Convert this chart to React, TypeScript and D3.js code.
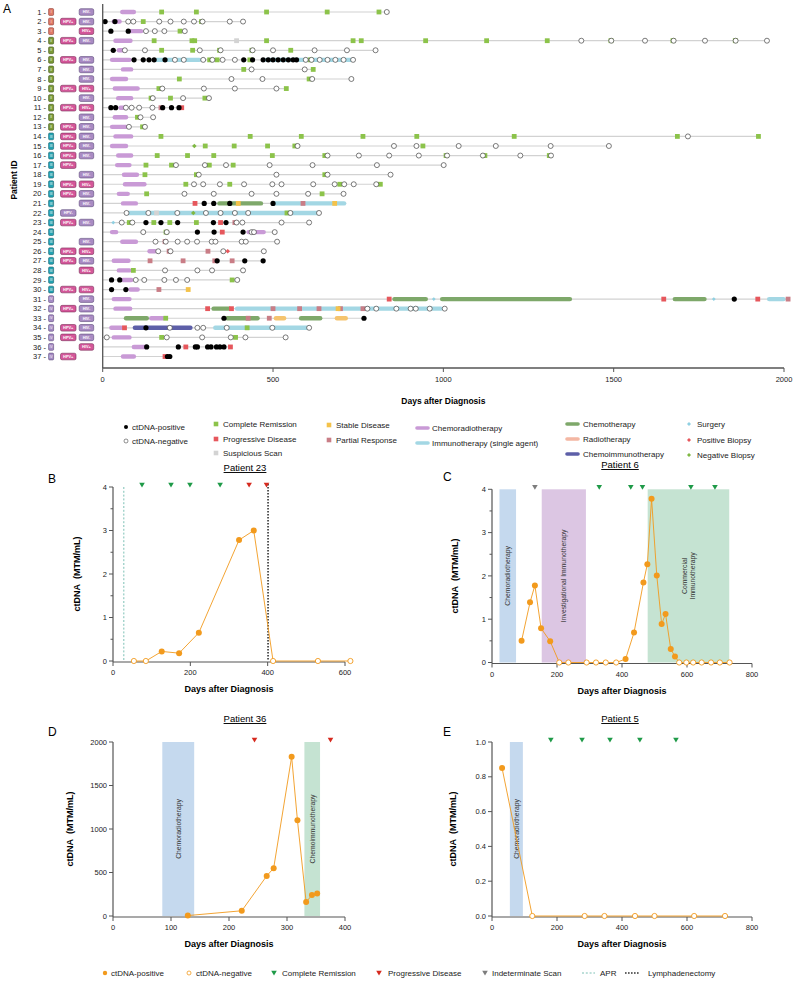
import React from "react";
import * as d3 from "d3";

const FONT = "'Liberation Sans', Arial, Helvetica, sans-serif";

// ---------------- Panel A data ----------------
const patientIds = [1, 2, 3, 4, 5, 6, 7, 8, 9, 10, 11, 12, 13, 14, 15, 16, 17, 18, 19, 20, 21, 22, 23, 24, 25, 26, 27, 28, 29, 30, 31, 32, 33, 34, 35, 36, 37];
const stages = ["I", "I", "I", "II", "II", "II", "II", "II", "II", "II", "II", "II", "II", "III", "III", "III", "III", "III", "III", "III", "III", "III", "III", "III", "III", "III", "III", "III", "III", "III", "IV", "IV", "IV", "IV", "IV", "IV", "IV"];
const hpvStatus = ["", "+", "", "+", "", "+", "", "", "+", "", "+", "", "+", "+", "+", "+", "+", "", "+", "+", "", "-", "+", "", "", "+", "+", "", "", "+", "", "+", "", "+", "+", "", "+"];
const hivStatus = ["-", "-", "+", "-", "", "-", "-", "-", "+", "-", "+", "-", "-", "-", "-", "-", "", "-", "+", "-", "-", "", "-", "", "-", "+", "-", "+", "", "+", "-", "-", "-", "-", "-", "+", ""];
const xTicksA = [0, 500, 1000, 1500, 2000];

type Ev = [number, number];
type Tx = [number, number, number];

const ctdnaPositive: Ev[] = [
  [2, 7], [2, 36], [3, 24], [3, 75], [5, 31],
  [6, 92], [6, 119], [6, 136], [6, 151], [6, 183], [6, 414], [6, 440], [6, 471], [6, 486], [6, 500], [6, 515], [6, 530], [6, 545], [6, 559], [6, 569],
  [11, 24], [11, 38], [11, 176], [11, 202], [11, 224],
  [21, 298], [21, 326], [21, 373], [21, 500],
  [23, 127], [23, 171], [23, 220], [23, 325], [23, 362],
  [24, 278], [24, 327], [24, 412],
  [27, 336], [27, 417], [27, 471],
  [29, 26], [29, 50], [30, 26], [30, 68],
  [31, 1854], [33, 356], [33, 767], [34, 127],
  [36, 129], [36, 222], [36, 272], [36, 278], [36, 308], [36, 318], [36, 334], [36, 344], [36, 356],
  [37, 190], [37, 197],
];
const ctdnaNegative: Ev[] = [
  [1, 834],
  [2, 75], [2, 90], [2, 166], [2, 199], [2, 238], [2, 268], [2, 293], [2, 373], [2, 412],
  [3, 127], [3, 153], [3, 181], [3, 241],
  [4, 1405], [4, 1493], [4, 1592], [4, 1676], [4, 1768], [4, 1858], [4, 1950],
  [5, 65], [5, 124], [5, 285], [5, 346], [5, 440], [5, 500], [5, 622], [5, 717], [5, 801],
  [6, 212], [6, 238], [6, 295], [6, 322], [6, 352], [6, 388], [6, 596], [6, 613], [6, 637], [6, 660], [6, 683], [6, 707], [6, 735],
  [7, 437], [7, 593],
  [8, 378], [8, 469], [8, 615], [8, 730],
  [9, 175], [9, 297], [9, 388], [9, 510],
  [10, 147], [10, 236], [10, 312],
  [11, 68], [11, 85], [11, 107], [11, 146],
  [12, 111], [12, 148],
  [13, 77], [13, 124],
  [14, 1718],
  [15, 572], [15, 855], [15, 921], [15, 1045], [15, 1154], [15, 1315], [15, 1486],
  [16, 660], [16, 752], [16, 841], [16, 928], [16, 1011], [16, 1116], [16, 1226], [16, 1316],
  [17, 215], [17, 300], [17, 362], [17, 490], [17, 616], [17, 805], [17, 1001],
  [18, 282], [18, 510], [18, 660], [18, 845],
  [19, 268], [19, 295], [19, 344], [19, 415], [19, 498], [19, 525], [19, 618], [19, 681], [19, 709], [19, 737], [19, 803],
  [20, 240], [20, 326], [20, 437], [20, 510], [20, 603], [20, 707],
  [22, 70], [22, 134], [22, 219], [22, 303], [22, 346], [22, 388], [22, 427], [22, 551], [22, 635],
  [23, 56], [23, 87], [23, 393], [23, 410], [23, 525], [23, 606],
  [24, 119], [24, 188], [24, 437], [24, 444], [24, 505],
  [25, 155], [25, 185], [25, 220], [25, 248], [25, 277], [25, 320], [25, 331], [25, 408], [25, 420], [25, 512],
  [26, 163], [26, 199], [26, 354], [26, 473],
  [28, 183], [28, 278], [28, 321], [28, 412],
  [29, 97], [29, 122], [29, 181], [29, 215], [29, 248], [29, 395],
  [32, 777], [32, 803], [32, 862], [32, 904], [32, 919], [32, 960], [32, 1004],
  [34, 197], [34, 278], [34, 295], [34, 364], [34, 498], [34, 606],
  [35, 12], [35, 188], [35, 292], [35, 376], [35, 419], [35, 537],
];
const completeRemission: Ev[] = [
  [1, 173], [1, 275], [1, 481], [1, 659], [1, 811],
  [2, 119], [2, 290], [3, 227],
  [4, 151], [4, 262], [4, 270], [4, 481], [4, 735], [4, 759], [4, 948], [4, 1127], [4, 1305], [4, 1492], [4, 1674], [4, 1857],
  [5, 173], [5, 264], [5, 343], [5, 438], [5, 552],
  [6, 314], [6, 336], [6, 432], [6, 610],
  [7, 414], [7, 618], [8, 225], [8, 606], [9, 165], [9, 539],
  [10, 142], [10, 199], [10, 300], [12, 102], [13, 117],
  [14, 171], [14, 433], [14, 583], [14, 764], [14, 922], [14, 1208], [14, 1687], [14, 1925],
  [15, 301], [15, 386], [15, 484], [15, 564], [15, 940],
  [16, 160], [16, 249], [16, 326], [16, 498], [16, 652], [16, 1008], [16, 1122], [16, 1311],
  [17, 127], [17, 202], [17, 313], [17, 383],
  [18, 124], [18, 275], [18, 652],
  [19, 244], [19, 373], [19, 696], [19, 815],
  [20, 129], [20, 644], [22, 541],
  [23, 78], [23, 150], [23, 197], [23, 275],
  [24, 186], [28, 90], [29, 380], [33, 185], [34, 424], [35, 173], [35, 390],
];
const progressiveDisease: Ev[] = [
  [11, 232], [21, 271], [23, 346], [24, 351], [31, 841], [31, 1647], [31, 1923], [32, 308], [32, 378], [34, 64], [36, 244], [36, 375], [37, 183],
];
const partialResponse: Ev[] = [
  [11, 171], [21, 588], [23, 388], [25, 183], [26, 195], [26, 309], [27, 139], [27, 236], [27, 329], [27, 380], [30, 165], [31, 2012],
  [32, 500], [32, 578], [32, 635], [32, 698], [32, 764], [33, 427], [33, 489],
];
const stableDisease: Ev[] = [[21, 398], [21, 681], [30, 251], [32, 691]];
const suspiciousScan: Ev[] = [[4, 393], [22, 158]];
const surgery: Ev[] = [[23, 31], [31, 972], [31, 1794]];
const positiveBiopsy: Ev[] = [[26, 367]];
const negativeBiopsy: Ev[] = [[15, 269], [22, 266]];

const chemoradiotherapy: Tx[] = [
  [1, 51, 98], [2, 26, 56], [3, 75, 119], [4, 31, 88], [5, 41, 70], [6, 21, 85], [7, 53, 90], [8, 21, 75], [9, 29, 109], [10, 39, 90],
  [11, 46, 75], [12, 29, 75], [13, 21, 75], [14, 31, 90], [15, 21, 75], [16, 39, 90], [17, 36, 85], [18, 56, 107], [19, 59, 129], [20, 41, 80],
  [21, 53, 104], [24, 21, 46], [24, 422, 479], [25, 51, 104], [26, 131, 160], [27, 26, 82], [28, 41, 85], [29, 53, 90], [30, 75, 109],
  [31, 26, 85], [32, 31, 87], [33, 136, 183], [34, 19, 61], [35, 26, 85], [36, 85, 134], [37, 53, 98],
];
const immunotherapy: Tx[] = [[6, 151, 290], [6, 475, 735], [21, 500, 715], [22, 70, 637], [31, 1950, 2005], [32, 388, 999], [34, 324, 606]];
const chemotherapy: Tx[] = [[21, 336, 471], [31, 850, 955], [31, 990, 1378], [31, 1673, 1773], [32, 319, 378], [33, 62, 136], [33, 359, 461], [33, 576, 645]];
const radiotherapy: Tx[] = [[33, 502, 539], [33, 681, 720]];
const chemoimmunotherapy: Tx[] = [[34, 88, 264]];

// ---------------- Panels B-E data ----------------
const p23Days = [54, 85, 126, 171, 222, 326, 364, 414, 530, 614];
const p23Values = [0, 0, 0.22, 0.18, 0.65, 2.78, 3.0, 0, 0, 0];
const p23Positive = [false, false, true, true, true, true, true, false, false, false];
const p23CR = [75, 150, 199, 277];
const p23PD = [352, 397];
const p23APR = 28;
const p23Lymph = 401;

const p6Days = [91, 117, 132, 151, 179, 207, 235, 291, 320, 350, 382, 411, 437, 466, 478, 491, 507, 522, 534, 550, 563, 576, 598, 619, 645, 674, 701, 731];
const p6Values = [0.5, 1.39, 1.78, 0.79, 0.49, 0, 0, 0, 0, 0, 0, 0.08, 0.69, 1.85, 2.27, 3.78, 2.01, 0.89, 1.12, 0.31, 0.14, 0, 0, 0, 0, 0, 0, 0];
const p6Positive = [true, true, true, true, true, false, false, false, false, false, false, true, true, true, true, true, true, true, true, true, true, false, false, false, false, false, false, false];
const p6CR = [330, 427, 463, 612, 686];
const p6Indeterminate = [132];
const p6Bands = [
  { start: 23, end: 74, color: "#c5d9ee", lines: ["Chemoradiotherapy"] },
  { start: 153, end: 289, color: "#dcc6e3", lines: ["Investigational Immunotherapy"] },
  { start: 479, end: 730, color: "#c5e3d2", lines: ["Commercial", "Immunotherapy"] },
];

const p36Days = [129, 222, 265, 277, 308, 318, 333, 343, 352];
const p36Values = [5, 60, 460, 550, 1830, 1100, 160, 240, 260];
const p36Positive = [true, true, true, true, true, true, true, true, true];
const p36PD = [244, 375];
const p36Bands = [
  { start: 85, end: 140, color: "#c5d9ee", lines: ["Chemoradiotherapy"] },
  { start: 330, end: 357, color: "#c5e3d2", lines: ["Chemoimmunotherapy"] },
];

const p5Days = [31, 124, 285, 346, 440, 500, 622, 717];
const p5Values = [0.85, 0, 0, 0, 0, 0, 0, 0];
const p5Positive = [true, false, false, false, false, false, false, false];
const p5CR = [181, 277, 363, 455, 566];
const p5Bands = [{ start: 55, end: 95, color: "#c5d9ee", lines: ["Chemoradiotherapy"] }];

// ---------------- colours ----------------
const C = {
  crt: "#c99ad6",
  imm: "#a3d7e4",
  chemo: "#7ea86a",
  radio: "#f5c46e",
  radioLegend: "#f4b7a3",
  chemoimm: "#5d5fa8",
  cr: "#8cc34a",
  pd: "#e6575c",
  ss: "#d3d3d3",
  sd: "#f4c24a",
  pr: "#c97d86",
  surg: "#8fd0e2",
  posBx: "#e6575c",
  negBx: "#7fb843",
  orange: "#f29a1d",
  green: "#1f9a48",
  red: "#d62a1f",
  grey: "#7d7d7d",
  axis: "#555",
};

const stageColor: Record<string, [string, string]> = {
  I: ["#e07a68", "#8a3a30"],
  II: ["#7a9a36", "#3e5318"],
  III: ["#22a3b3", "#14606a"],
  IV: ["#a58bc5", "#5d4a7a"],
};

const xA = d3.scaleLinear().domain([0, 2000]).range([102.7, 784]);
const rowY = (p: number) => 12 + (p - 1) * 9.57;

const rowEnd: Record<number, number> = {};
[ctdnaPositive, ctdnaNegative, completeRemission, progressiveDisease, partialResponse, stableDisease, suspiciousScan, surgery, positiveBiopsy, negativeBiopsy].forEach((arr) =>
  arr.forEach(([p, d]) => (rowEnd[p] = Math.max(rowEnd[p] ?? 0, d)))
);
[chemoradiotherapy, immunotherapy, chemotherapy, radiotherapy, chemoimmunotherapy].forEach((arr) =>
  arr.forEach(([p, , e]) => (rowEnd[p] = Math.max(rowEnd[p] ?? 0, e)))
);

const diamond = (s: number) => `M0,${-s}L${s},0L0,${s}L${-s},0Z`;
const triDown = "M-2.8,-2.3L2.8,-2.3L0,2.5Z";

function Bars({ data, color, w = 4.4 }: { data: Tx[]; color: string; w?: number }) {
  return (
    <g>
      {data.map(([p, s, e], i) => {
        const x1 = xA(s) + w / 2;
        const x2 = Math.max(x1, xA(e) - w / 2);
        return <line key={i} x1={x1} x2={x2} y1={rowY(p)} y2={rowY(p)} stroke={color} strokeWidth={w} strokeLinecap="round" />;
      })}
    </g>
  );
}

function Squares({ data, color }: { data: Ev[]; color: string }) {
  return (
    <g>
      {data.map(([p, d], i) => (
        <rect key={i} x={xA(d) - 2.4} y={rowY(p) - 2.4} width={4.8} height={4.8} fill={color} />
      ))}
    </g>
  );
}

function PanelA() {
  const badge = (x: number, y: number, w: number, txt: string, fill: string, stroke: string) => (
    <g>
      <rect x={x} y={y - 3.3} width={w} height={6.6} rx={1.6} fill={fill} stroke={stroke} strokeWidth={0.6} />
      <text x={x + w / 2} y={y + 1.3} fontSize={3.9} fill="#fff" textAnchor="middle" fontWeight="bold">
        {txt}
      </text>
    </g>
  );
  return (
    <g fontFamily={FONT}>
      <text x={3} y={13} fontSize={12}>A</text>
      <text transform="translate(17,180) rotate(-90)" fontSize={8.5} fontWeight="bold" textAnchor="middle">Patient ID</text>
      {patientIds.map((p, i) => {
        const y = rowY(p);
        const st = stageColor[stages[i]];
        return (
          <g key={p}>
            <text x={46} y={y + 2.6} fontSize={7.5} textAnchor="end" fill="#222">{`${p} -`}</text>
            <rect x={48.6} y={y - 3.4} width={5} height={6.8} rx={1} fill={st[0]} stroke={st[1]} strokeWidth={0.6} />
            <text x={51.1} y={y + 1.2} fontSize={3.2} textAnchor="middle" fill="#fff">{stages[i]}</text>
            {hpvStatus[i] === "+" && badge(60.5, y, 15.5, "HPV+", "#d4579a", "#7a2d58")}
            {hpvStatus[i] === "-" && badge(60.5, y, 15.5, "HPV-", "#a98bc3", "#5d4a7a")}
            {hivStatus[i] === "+" && badge(79.2, y, 14.5, "HIV+", "#d4579a", "#7a2d58")}
            {hivStatus[i] === "-" && badge(79.2, y, 14.5, "HIV-", "#a98bc3", "#5d4a7a")}
            <line x1={xA(0)} x2={xA(rowEnd[p] ?? 0)} y1={y} y2={y} stroke="#d2d2d2" strokeWidth={1.2} />
          </g>
        );
      })}
      <Bars data={chemoradiotherapy} color={C.crt} />
      <Bars data={immunotherapy} color={C.imm} />
      <Bars data={chemotherapy} color={C.chemo} />
      <Bars data={radiotherapy} color={C.radio} />
      <Bars data={chemoimmunotherapy} color={C.chemoimm} />
      <Squares data={suspiciousScan} color={C.ss} />
      <Squares data={completeRemission} color={C.cr} />
      <Squares data={progressiveDisease} color={C.pd} />
      <Squares data={partialResponse} color={C.pr} />
      <Squares data={stableDisease} color={C.sd} />
      {ctdnaNegative.map(([p, d], i) => (
        <circle key={"n" + i} cx={xA(d)} cy={rowY(p)} r={2.5} fill="#fff" stroke="#444" strokeWidth={0.7} />
      ))}
      {ctdnaPositive.map(([p, d], i) => (
        <circle key={"p" + i} cx={xA(d)} cy={rowY(p)} r={2.6} fill="#000" />
      ))}
      {surgery.map(([p, d], i) => (
        <path key={"s" + i} d={diamond(1.9)} transform={`translate(${xA(d)},${rowY(p)})`} fill={C.surg} />
      ))}
      {positiveBiopsy.map(([p, d], i) => (
        <path key={"pb" + i} d={diamond(2.3)} transform={`translate(${xA(d)},${rowY(p)})`} fill={C.posBx} />
      ))}
      {negativeBiopsy.map(([p, d], i) => (
        <path key={"nb" + i} d={diamond(2.3)} transform={`translate(${xA(d)},${rowY(p)})`} fill={C.negBx} />
      ))}
      {/* axes */}
      <line x1={xA(0)} x2={xA(0)} y1={4} y2={368} stroke={C.axis} strokeWidth={1.3} />
      <line x1={xA(0)} x2={xA(2000)} y1={368} y2={368} stroke={C.axis} strokeWidth={1.3} />
      {xTicksA.map((t) => (
        <g key={t}>
          <line x1={xA(t)} x2={xA(t)} y1={368} y2={372} stroke={C.axis} strokeWidth={1} />
          <text x={xA(t)} y={382} fontSize={7.5} textAnchor="middle" fill="#222">{t}</text>
        </g>
      ))}
      <text x={(xA(0) + xA(2000)) / 2} y={404} fontSize={8.5} fontWeight="bold" textAnchor="middle">Days after Diagnosis</text>
      <LegendA />
    </g>
  );
}

function LegendA() {
  const fs = 8;
  const T = ({ x, y, t }: { x: number; y: number; t: string }) => (
    <text x={x} y={y} fontSize={fs} dominantBaseline="central" fill="#222">{t}</text>
  );
  const sq = (x: number, y: number, c: string) => <rect x={x - 2.3} y={y - 2.3} width={4.6} height={4.6} fill={c} />;
  const bar = (x: number, y: number, c: string) => <line x1={x} x2={x + 11} y1={y} y2={y} stroke={c} strokeWidth={3.6} strokeLinecap="round" />;
  const dm = (x: number, y: number, c: string) => <path d={diamond(2)} transform={`translate(${x},${y})`} fill={c} />;
  return (
    <g>
      <circle cx={126} cy={427} r={2} fill="#000" />
      <T x={132} y={427} t="ctDNA-positive" />
      <circle cx={126} cy={441} r={2} fill="#fff" stroke="#444" strokeWidth={0.6} />
      <T x={132} y={441} t="ctDNA-negative" />
      {sq(216, 424, C.cr)}
      <T x={223} y={424} t="Complete Remission" />
      {sq(216, 439, C.pd)}
      <T x={223} y={439} t="Progressive Disease" />
      {sq(216, 453, C.ss)}
      <T x={223} y={453} t="Suspicious Scan" />
      {sq(329, 425, C.sd)}
      <T x={336} y={425} t="Stable Disease" />
      {sq(329, 440, C.pr)}
      <T x={336} y={440} t="Partial Response" />
      {bar(417, 428, C.crt)}
      <T x={432} y={428} t="Chemoradiotherapy" />
      {bar(417, 443, C.imm)}
      <T x={432} y={443} t="Immunotherapy (single agent)" />
      {bar(567, 424, C.chemo)}
      <T x={583} y={424} t="Chemotherapy" />
      {bar(567, 439, C.radioLegend)}
      <T x={583} y={439} t="Radiotherapy" />
      {bar(567, 454, C.chemoimm)}
      <T x={583} y={454} t="Chemoimmunotherapy" />
      {dm(689, 424, C.surg)}
      <T x={697} y={424} t="Surgery" />
      {dm(689, 440, C.posBx)}
      <T x={697} y={440} t="Positive Biopsy" />
      {dm(689, 455, C.negBx)}
      <T x={697} y={455} t="Negative Biopsy" />
    </g>
  );
}

type Band = { start: number; end: number; color: string; lines: string[] };
type PanelProps = {
  letter: string;
  letterPos: [number, number];
  title: string;
  titlePos: [number, number];
  xDomain: [number, number];
  xRange: [number, number];
  xTicks: number[];
  yDomain: [number, number];
  yRange: [number, number];
  yTicks: number[];
  yMinor: number[];
  yFmt: (v: number) => string;
  yTitleOffset: number;
  bands: Band[];
  days: number[];
  values: number[];
  positive: boolean[];
  cr: number[];
  pd: number[];
  ind: number[];
  apr?: number;
  lymph?: number;
};

function TimePanel(props: PanelProps) {
  const x = d3.scaleLinear().domain(props.xDomain).range(props.xRange);
  const y = d3.scaleLinear().domain(props.yDomain).range(props.yRange);
  const x0 = props.xRange[0];
  const yb = props.yRange[0];
  const yt = props.yRange[1];
  const line = d3
    .line<number>()
    .x((_, i) => x(props.days[i]))
    .y((v) => y(v));
  const triY = yt - 2;
  return (
    <g fontFamily={FONT}>
      <text x={props.letterPos[0]} y={props.letterPos[1]} fontSize={12}>{props.letter}</text>
      <text x={props.titlePos[0]} y={props.titlePos[1]} fontSize={9.5} textAnchor="middle" textDecoration="underline">{props.title}</text>
      {props.bands.map((b, i) => {
        const cx = (x(b.start) + x(b.end)) / 2;
        const cy = (yb + yt) / 2;
        return (
          <g key={i}>
            <rect x={x(b.start)} y={yt} width={x(b.end) - x(b.start)} height={yb - yt} fill={b.color} />
            {b.lines.map((l, j) => (
              <text key={j} transform={`translate(${cx + (j - (b.lines.length - 1) / 2) * 8.5 + 2.4},${cy}) rotate(-90)`} fontSize={6.8} textAnchor="middle" fill="#333">
                {l}
              </text>
            ))}
          </g>
        );
      })}
      {props.apr !== undefined && <line x1={x(props.apr)} x2={x(props.apr)} y1={yt} y2={yb} stroke="#7cc0b5" strokeWidth={1} strokeDasharray="2,1.8" />}
      {props.lymph !== undefined && <line x1={x(props.lymph)} x2={x(props.lymph)} y1={yt - 3} y2={yb} stroke="#333" strokeWidth={1.6} strokeDasharray="1.6,1.4" />}
      {/* axes */}
      <line x1={x0} x2={x0} y1={yt} y2={yb + 1} stroke={C.axis} strokeWidth={1.2} />
      <line x1={x0} x2={props.xRange[1]} y1={yb + 1} y2={yb + 1} stroke={C.axis} strokeWidth={1.2} />
      {props.yTicks.map((t) => (
        <g key={"yt" + t}>
          <line x1={x0 - 4} x2={x0} y1={y(t)} y2={y(t)} stroke={C.axis} strokeWidth={1} />
          <text x={x0 - 6} y={y(t) + 2.6} fontSize={7.5} textAnchor="end" fill="#222">{props.yFmt(t)}</text>
        </g>
      ))}
      {props.yMinor.map((t) => (
        <line key={"ym" + t} x1={x0 - 2.5} x2={x0} y1={y(t)} y2={y(t)} stroke={C.axis} strokeWidth={1} />
      ))}
      {props.xTicks.map((t) => (
        <g key={"xt" + t}>
          <line x1={x(t)} x2={x(t)} y1={yb + 1} y2={yb + 5} stroke={C.axis} strokeWidth={1} />
          <text x={x(t)} y={yb + 14} fontSize={7.5} textAnchor="middle" fill="#222">{t}</text>
        </g>
      ))}
      <text x={(props.xRange[0] + props.xRange[1]) / 2} y={yb + 31} fontSize={9} fontWeight="bold" textAnchor="middle">Days after Diagnosis</text>
      <text transform={`translate(${x0 - props.yTitleOffset},${(yb + yt) / 2}) rotate(-90)`} fontSize={9} fontWeight="bold" textAnchor="middle">
        ctDNA{"\u00a0\u00a0"}(MTM/mL)
      </text>
      {/* data */}
      <path d={line(props.values) ?? ""} fill="none" stroke={C.orange} strokeWidth={0.9} />
      {props.days.map((d, i) =>
        props.positive[i] ? (
          <circle key={"pt" + i} cx={x(d)} cy={y(props.values[i])} r={3} fill={C.orange} />
        ) : (
          <circle key={"pt" + i} cx={x(d)} cy={y(props.values[i])} r={2.6} fill="#fff" stroke={C.orange} strokeWidth={0.9} />
        )
      )}
      {props.cr.map((d, i) => (
        <path key={"cr" + i} d={triDown} transform={`translate(${x(d)},${triY})`} fill={C.green} />
      ))}
      {props.pd.map((d, i) => (
        <path key={"pd" + i} d={triDown} transform={`translate(${x(d)},${triY})`} fill={C.red} />
      ))}
      {props.ind.map((d, i) => (
        <path key={"in" + i} d={triDown} transform={`translate(${x(d)},${triY})`} fill={C.grey} />
      ))}
    </g>
  );
}

function BottomLegend() {
  const y = 973;
  const T = ({ x, t }: { x: number; t: string }) => (
    <text x={x} y={y} fontSize={8} dominantBaseline="central" fill="#222">{t}</text>
  );
  return (
    <g fontFamily={FONT}>
      <circle cx={105} cy={y} r={2.2} fill={C.orange} />
      <T x={111} t="ctDNA-positive" />
      <circle cx={189} cy={y} r={2} fill="#fff" stroke={C.orange} strokeWidth={0.8} />
      <T x={196} t="ctDNA-negative" />
      <path d={triDown} transform={`translate(${274},${y})`} fill={C.green} />
      <T x={282} t="Complete Remission" />
      <path d={triDown} transform={`translate(${379},${y})`} fill={C.red} />
      <T x={388} t="Progressive Disease" />
      <path d={triDown} transform={`translate(${485},${y})`} fill={C.grey} />
      <T x={492} t="Indeterminate Scan" />
      <line x1={582} x2={595} y1={y} y2={y} stroke="#7cc0b5" strokeWidth={1} strokeDasharray="2,1.8" />
      <T x={600} t="APR" />
      <line x1={625} x2={640} y1={y} y2={y} stroke="#333" strokeWidth={1.6} strokeDasharray="1.6,1.4" />
      <T x={648} t="Lymphadenectomy" />
    </g>
  );
}

export default function App() {
  return (
    <svg width={800} height={981} style={{ position: "absolute", left: 0, top: 0, background: "#fff" }}>
      <rect width={800} height={981} fill="#fff" />
      <PanelA />
      <TimePanel
        letter="B" letterPos={[48, 483]} title="Patient 23" titlePos={[245, 471]}
        xDomain={[0, 600]} xRange={[113, 345]} xTicks={[0, 200, 400, 600]}
        yDomain={[0, 4]} yRange={[661, 487]} yTicks={[0, 1, 2, 3, 4]} yMinor={[0.5, 1.5, 2.5, 3.5]} yFmt={(v) => String(v)} yTitleOffset={33}
        bands={[]} days={p23Days} values={p23Values} positive={p23Positive} cr={p23CR} pd={p23PD} ind={[]} apr={p23APR} lymph={p23Lymph}
      />
      <TimePanel
        letter="C" letterPos={[443, 481]} title="Patient 6" titlePos={[620, 468]}
        xDomain={[0, 800]} xRange={[492, 752]} xTicks={[0, 200, 400, 600, 800]}
        yDomain={[0, 4]} yRange={[662.5, 489.3]} yTicks={[0, 1, 2, 3, 4]} yMinor={[0.5, 1.5, 2.5, 3.5]} yFmt={(v) => String(v)} yTitleOffset={34}
        bands={p6Bands} days={p6Days} values={p6Values} positive={p6Positive} cr={p6CR} pd={[]} ind={p6Indeterminate}
      />
      <TimePanel
        letter="D" letterPos={[48, 736]} title="Patient 36" titlePos={[245, 722]}
        xDomain={[0, 400]} xRange={[113, 345]} xTicks={[0, 100, 200, 300, 400]}
        yDomain={[0, 2000]} yRange={[916, 742]} yTicks={[0, 500, 1000, 1500, 2000]} yMinor={[]} yFmt={(v) => String(v)} yTitleOffset={40}
        bands={p36Bands} days={p36Days} values={p36Values} positive={p36Positive} cr={[]} pd={p36PD} ind={[]}
      />
      <TimePanel
        letter="E" letterPos={[443, 736]} title="Patient 5" titlePos={[620, 722]}
        xDomain={[0, 800]} xRange={[492, 752]} xTicks={[0, 200, 400, 600, 800]}
        yDomain={[0, 1]} yRange={[916, 742]} yTicks={[0, 0.2, 0.4, 0.6, 0.8, 1.0]} yMinor={[]} yFmt={(v) => v.toFixed(1)} yTitleOffset={36}
        bands={p5Bands} days={p5Days} values={p5Values} positive={p5Positive} cr={p5CR} pd={[]} ind={[]}
      />
      <BottomLegend />
    </svg>
  );
}
